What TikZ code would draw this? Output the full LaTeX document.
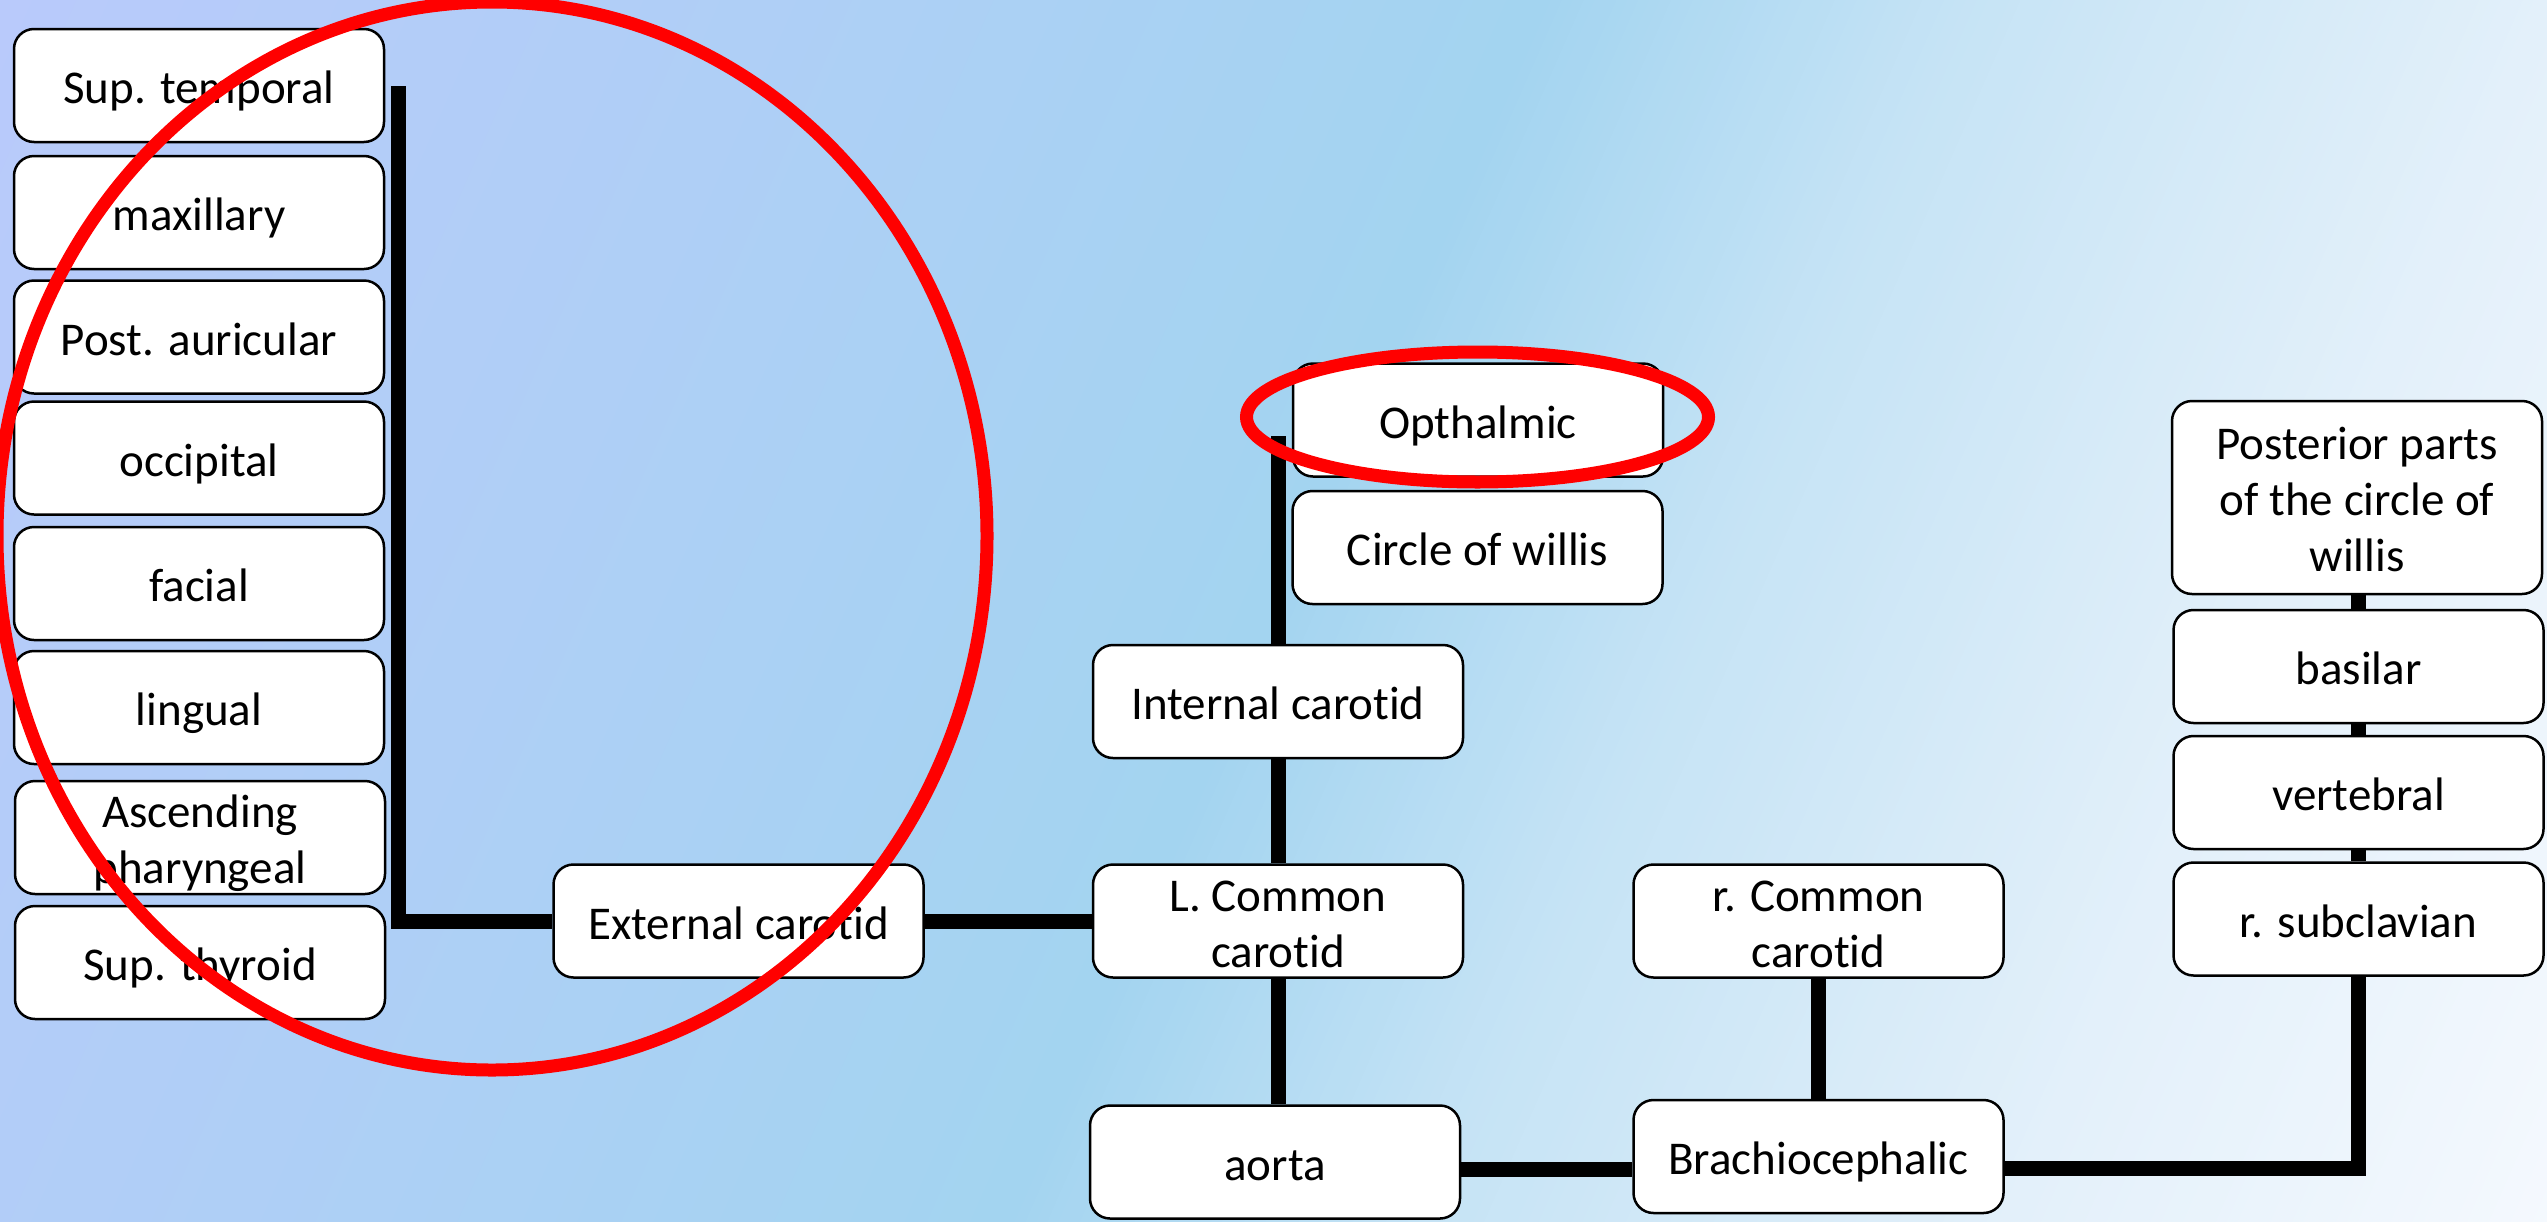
\documentclass[tikz,border=0pt]{standalone}
\usepackage{fontspec}
\setmainfont{Carlito}[Ligatures={NoCommon}]
\definecolor{c0}{HTML}{B9CAFB}
\definecolor{c1}{HTML}{AFCFF6}
\definecolor{c2}{HTML}{A3D4F0}
\definecolor{c3}{HTML}{C5E3F5}
\definecolor{c4}{HTML}{E3F0FA}
\definecolor{c5}{HTML}{F5F9FE}
\newcommand{\mystrut}{\rule[-10pt]{0pt}{56pt}}
\tikzset{
  box/.style={draw=black, line width=2.5pt, fill=white, rounded corners=20pt,
    minimum width=370pt, minimum height=113pt, inner sep=0pt, align=center,
    font=\fontsize{47}{56}\selectfont},
  conn/.style={draw=black, line width=15pt, line join=miter},
  ring/.style={draw=red, line width=13pt}
}
\begin{document}
\begin{tikzpicture}[x=1pt,y=-1pt]
\useasboundingbox (0,0) rectangle (2547,1221);
% background gradient
\begin{scope}
\clip (0,0) rectangle (2547,1221);
\begin{scope}[rotate=-23.7]
\foreach \ua/\ub/\ca/\cb in {0/700/c0/c1, 700/1410/c1/c2, 1410/1790/c2/c3, 1790/2330/c3/c4, 2330/2830/c4/c5} {
  \pgfmathtruncatemacro{\n}{(\ub-\ua)/10}
  \foreach \k in {0,...,\n} {
    \pgfmathsetmacro{\u}{\ua+\k*10}
    \pgfmathtruncatemacro{\p}{100-100*\k/\n}
    \fill[color=\ca!\p!\cb] (\u,-1500) rectangle (\u+11,1500);
  }
}
\end{scope}
\end{scope}
% left column
\node[box] (suptemp) at (199,85.5) {\mystrut Sup. temporal};
\node[box] (maxil) at (199,212.5) {\mystrut maxillary};
\node[box] (postaur) at (199,337) {\mystrut Post. auricular};
\node[box] (occip) at (199,458) {\mystrut occipital};
\node[box] (facial) at (199,583.5) {\mystrut facial};
\node[box] (lingual) at (199,707.5) {\mystrut lingual};
\node[box] (ascph) at (200,837.5) {\mystrut Ascending\\pharyngeal\mystrut};
\node[box] (supthy) at (200,962.5) {\mystrut Sup. thyroid};
% middle
\node[box] (ext) at (738.5,921) {\mystrut External carotid};
\node[box] (opth) at (1478,420) {\mystrut Opthalmic};
\node[box] (cow) at (1477.5,547.5) {\mystrut Circle of willis};
\node[box] (ic) at (1278,701.5) {\mystrut Internal carotid};
\node[box] (lcc) at (1278,921) {\mystrut L. Common\\carotid\mystrut};
\node[box] (aorta) at (1275,1162) {\mystrut aorta};
\node[box] (rcc) at (1818.5,921) {\mystrut r. Common\\carotid\mystrut};
\node[box] (brach) at (1818.5,1156.5) {\mystrut Brachiocephalic};
% right column
\node[box, minimum height=193pt] (post) at (2357,497.5) {\mystrut Posterior parts\\of the circle of\\willis\mystrut};
\node[box] (bas) at (2358.5,666.5) {\mystrut basilar};
\node[box] (vert) at (2358.5,792.5) {\mystrut vertebral};
\node[box] (rsub) at (2358.5,919) {\mystrut r. subclavian};
% connectors
\coordinate (ltop) at (398,86);
\coordinate (otop) at (1280,436);
\draw[conn] (ltop) |- (ext.west);
\draw[conn] (ext.east) -- (lcc.west);
\draw[conn] (ic.north) -- (ic.north |- otop);
\draw[conn] (ic.south) -- (lcc.north);
\draw[conn] (lcc.south) -- (lcc.south |- aorta.north);
\draw[conn] ([yshift=-7pt]aorta.east) -- ([yshift=-7pt]aorta.east -| brach.west);
\draw[conn] (rcc.south) -- (brach.north);
\draw[conn] ([yshift=-12pt]brach.east) -| (rsub.south);
\draw[conn] (rsub.north) -- (vert.south);
\draw[conn] (vert.north) -- (bas.south);
\draw[conn] (bas.north) -- (bas.north |- post.south);
% red rings
\draw[ring] (492,536) ellipse [x radius=495, y radius=534];
\draw[ring] (1477.5,417) ellipse [x radius=231, y radius=65];
\end{tikzpicture}
\end{document}
